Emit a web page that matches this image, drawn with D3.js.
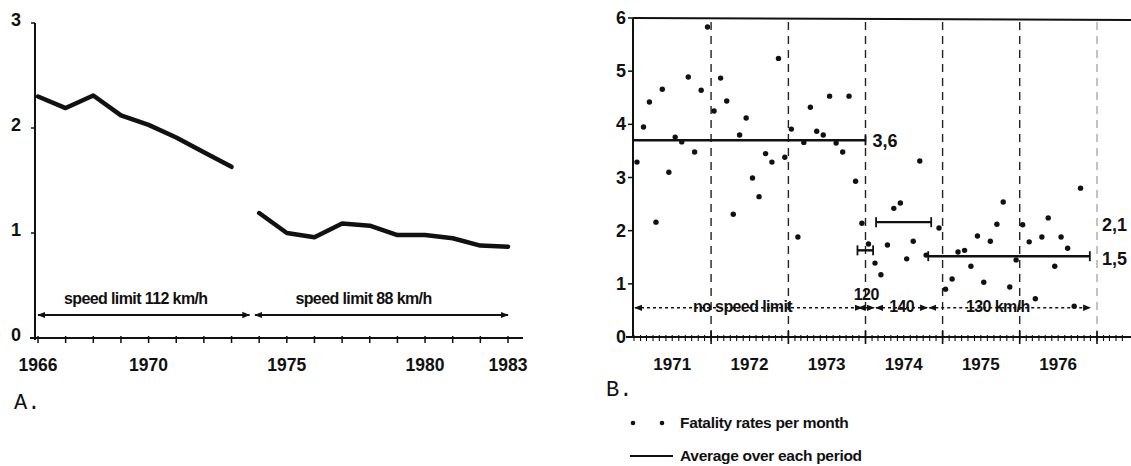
<!DOCTYPE html>
<html>
<head>
<meta charset="utf-8">
<script src="https://cdn.jsdelivr.net/npm/d3@7"></script>
<style>
  body { margin: 0; background: #fff; }
  svg { display: block; }
  text { font-family: "Liberation Sans", Arial, sans-serif; fill: #111; }
</style>
</head>
<body>
<div id="chart"></div>
<script>
// ---- panel A: yearly fatality rate ----
var yearsA1 = [1966, 1967, 1968, 1969, 1970, 1971, 1972, 1973];
var ratesA1 = [2.30, 2.19, 2.31, 2.12, 2.03, 1.91, 1.77, 1.63];
var yearsA2 = [1974, 1975, 1976, 1977, 1978, 1979, 1980, 1981, 1982, 1983];
var ratesA2 = [1.19, 1.00, 0.96, 1.09, 1.07, 0.98, 0.98, 0.95, 0.88, 0.87];
var yTicksA = [0, 1, 2, 3];
var xLabelsA = [1966, 1970, 1975, 1980, 1983];
var limitsA = [
  {label: "speed limit 112 km/h", from: 1966, to: 1973.65},
  {label: "speed limit 88 km/h", from: 1973.85, to: 1983}
];

// ---- panel B: monthly fatality rate ----
var monthsB = [
  "1971-01","1971-02","1971-03","1971-04","1971-05","1971-06","1971-07","1971-08","1971-09","1971-10","1971-11","1971-12",
  "1972-01","1972-02","1972-03","1972-04","1972-05","1972-06","1972-07","1972-08","1972-09","1972-10","1972-11","1972-12",
  "1973-01","1973-02","1973-03","1973-04","1973-05","1973-06","1973-07","1973-08","1973-09","1973-10","1973-11","1973-12",
  "1974-01","1974-02","1974-03","1974-04","1974-05","1974-06","1974-07","1974-08","1974-09","1974-10","1974-12",
  "1975-01","1975-02","1975-03","1975-04","1975-05","1975-06","1975-07","1975-08","1975-09","1975-10","1975-11","1975-12",
  "1976-01","1976-02","1976-03","1976-04","1976-05","1976-06","1976-07","1976-08","1976-09","1976-10"
];
var ratesB = [
  3.29, 3.95, 4.42, 2.16, 4.66, 3.10, 3.76, 3.67, 4.89, 3.48, 4.64, 5.83,
  4.25, 4.87, 4.44, 2.31, 3.80, 4.12, 2.99, 2.64, 3.45, 3.29, 5.24, 3.38,
  3.91, 1.88, 3.66, 4.32, 3.87, 3.80, 4.53, 3.65, 3.48, 4.53, 2.93, 2.14,
  1.75, 1.39, 1.17, 1.73, 2.42, 2.52, 1.47, 1.80, 3.31, 1.54, 2.05,
  0.90, 1.09, 1.60, 1.63, 1.33, 1.90, 1.03, 1.80, 2.12, 2.54, 0.94, 1.45,
  2.11, 1.79, 0.72, 1.88, 2.24, 1.33, 1.88, 1.67, 0.58, 2.80
];
var yearsB = [1971, 1972, 1973, 1974, 1975, 1976];
var yTicksB = [0, 1, 2, 3, 4, 5, 6];
var averagesB = [
  {from: "1971-01-01", to: "1974-01-01", value: 3.70, label: "3,6", labelAt: "end"},
  {from: "1973-11-24", to: "1974-02-06", value: 1.63, label: "", labelAt: "none"},
  {from: "1974-02-20", to: "1974-11-08", value: 2.16, label: "2,1", labelAt: "right"},
  {from: "1974-10-25", to: "1976-11-28", value: 1.52, label: "1,5", labelAt: "right"}
];
var periodsB = [
  {label: "no speed limit", from: "1971-01-01", to: "1973-12-20"},
  {label: "120", from: "1973-11-24", to: "1974-02-15"},
  {label: "140", from: "1974-02-15", to: "1974-10-25"},
  {label: "130 km/h", from: "1974-10-25", to: "1976-12-05"}
];

var W = 1131, H = 466;
var svg = d3.select("#chart").append("svg").attr("width", W).attr("height", H);

var defs = svg.append("defs");
defs.append("marker").attr("id", "arr").attr("viewBox", "0 0 10 10")
    .attr("refX", 9).attr("refY", 5).attr("markerWidth", 8).attr("markerHeight", 8)
    .attr("markerUnits", "userSpaceOnUse").attr("orient", "auto-start-reverse")
    .append("path").attr("d", "M0,1L10,5L0,9Z").attr("fill", "#111");

// =============== panel A ===============
var gA = svg.append("g");
var xA = d3.scaleLinear().domain([1966, 1983]).range([38, 508]);
var yA = d3.scaleLinear().domain([0, 3]).range([338, 23]);

// axes lines
gA.append("line").attr("x1", 35).attr("x2", 35).attr("y1", yA(3)).attr("y2", yA(0) + 2)
    .attr("stroke", "#111").attr("stroke-width", 2);
gA.append("line").attr("x1", 30).attr("x2", 523).attr("y1", yA(0)).attr("y2", yA(0))
    .attr("stroke", "#111").attr("stroke-width", 2.2);

gA.selectAll(".ytA").data(yTicksA).enter().append("line")
    .attr("x1", 31).attr("x2", 35).attr("y1", function(d){ return yA(d); }).attr("y2", function(d){ return yA(d); })
    .attr("stroke", "#111").attr("stroke-width", 1.5);
gA.selectAll(".ylA").data(yTicksA).enter().append("text")
    .attr("x", 21).attr("y", function(d){ return yA(d) + 3; })
    .attr("text-anchor", "end").attr("font-size", 18).attr("font-weight", "bold")
    .text(function(d){ return d; });

gA.selectAll(".xtA").data(d3.range(1966, 1984)).enter().append("line")
    .attr("x1", function(d){ return xA(d); }).attr("x2", function(d){ return xA(d); })
    .attr("y1", yA(0) - 2).attr("y2", yA(0) + 5)
    .attr("stroke", "#111").attr("stroke-width", 1.5);
gA.selectAll(".xlA").data(xLabelsA).enter().append("text")
    .attr("x", function(d){ return xA(d); }).attr("y", 371)
    .attr("text-anchor", "middle").attr("font-size", 17.5).attr("font-weight", "bold")
    .text(function(d){ return d; });

var lineA = d3.line().x(function(d){ return xA(d[0]); }).y(function(d){ return yA(d[1]); });
[d3.zip(yearsA1, ratesA1), d3.zip(yearsA2, ratesA2)].forEach(function(seg){
  gA.append("path").attr("d", lineA(seg)).attr("fill", "none")
      .attr("stroke", "#111").attr("stroke-width", 4.5)
      .attr("stroke-linejoin", "round").attr("stroke-linecap", "round");
});

limitsA.forEach(function(p){
  gA.append("line").attr("x1", xA(p.from)).attr("x2", xA(p.to)).attr("y1", 315).attr("y2", 315)
      .attr("stroke", "#111").attr("stroke-width", 2)
      .attr("marker-start", "url(#arr)").attr("marker-end", "url(#arr)");
  gA.append("text").attr("x", (xA(p.from) + xA(p.to)) / 2 + (p.from === 1966 ? -8 : -18)).attr("y", 304)
      .attr("text-anchor", "middle").attr("font-size", 16).attr("font-weight", "bold")
      .attr("letter-spacing", -0.6)
      .text(p.label);
});

gA.append("text").attr("x", 14).attr("y", 409)
    .style("font-family", "'Liberation Mono', 'Courier New', monospace")
    .attr("font-size", 22).text("A.");

// =============== panel B ===============
var gB = svg.append("g");
var parse = d3.timeParse("%Y-%m-%d");
var xB = d3.scaleTime().domain([new Date(1971, 0, 1), new Date(1977, 0, 1)]).range([634, 1097]);
var yB = d3.scaleLinear().domain([0, 6]).range([337, 18]);

// year boundary dashed lines
var bounds = d3.range(1972, 1978).map(function(y){ return new Date(y, 0, 1); });
gB.selectAll(".vb").data(bounds).enter().append("line")
    .attr("x1", function(d){ return xB(d); }).attr("x2", function(d){ return xB(d); })
    .attr("y1", yB(6) + 4).attr("y2", yB(0))
    .attr("stroke", function(d, i){ return i === bounds.length - 1 ? "#aaa" : "#222"; })
    .attr("stroke-width", 1.4).attr("stroke-dasharray", "8,6");

// frame: top line, left axis, bottom axis
gB.append("line").attr("x1", 633).attr("x2", W).attr("y1", yB(6)).attr("y2", yB(6) + 2)
    .attr("stroke", "#111").attr("stroke-width", 2);
gB.append("line").attr("x1", 633).attr("x2", 633).attr("y1", yB(6)).attr("y2", yB(0))
    .attr("stroke", "#111").attr("stroke-width", 2);
gB.append("line").attr("x1", 626).attr("x2", W).attr("y1", yB(0)).attr("y2", yB(0))
    .attr("stroke", "#111").attr("stroke-width", 2.2);

gB.selectAll(".ytB").data(yTicksB).enter().append("line")
    .attr("x1", 628).attr("x2", 633).attr("y1", function(d){ return yB(d); }).attr("y2", function(d){ return yB(d); })
    .attr("stroke", "#111").attr("stroke-width", 1.5);
gB.selectAll(".ylB").data(yTicksB).enter().append("text")
    .attr("x", 626).attr("y", function(d){ return yB(d) + 6; })
    .attr("text-anchor", "end").attr("font-size", 18).attr("font-weight", "bold")
    .text(function(d){ return d; });

// monthly minor ticks + yearly major ticks
var monthTicks = d3.timeMonth.range(new Date(1971, 0, 1), new Date(1978, 0, 1))
    .filter(function(d){ return xB(d) < W - 4; });
gB.selectAll(".mt").data(monthTicks).enter().append("line")
    .attr("x1", function(d){ return xB(d); }).attr("x2", function(d){ return xB(d); })
    .attr("y1", yB(0) - 2).attr("y2", yB(0) + 4)
    .attr("stroke", "#111").attr("stroke-width", 1.1);
gB.selectAll(".yt").data(bounds).enter().append("line")
    .attr("x1", function(d){ return xB(d); }).attr("x2", function(d){ return xB(d); })
    .attr("y1", yB(0) - 6).attr("y2", yB(0) + 7)
    .attr("stroke", "#111").attr("stroke-width", 1.6);
gB.selectAll(".xlB").data(yearsB).enter().append("text")
    .attr("x", function(d){ return xB(new Date(d, 6, 1)); }).attr("y", 370)
    .attr("text-anchor", "middle").attr("font-size", 17).attr("font-weight", "bold")
    .text(function(d){ return d; });

// monthly dots
var dots = d3.zip(monthsB, ratesB);
gB.selectAll(".dot").data(dots).enter().append("circle")
    .attr("cx", function(d){ return xB(parse(d[0] + "-15")); })
    .attr("cy", function(d){ return yB(d[1]); })
    .attr("r", 2.7).attr("fill", "#111");

// period averages
averagesB.forEach(function(a){
  var x1 = xB(parse(a.from)), x2 = xB(parse(a.to)), y = yB(a.value);
  gB.append("line").attr("x1", x1).attr("x2", x2).attr("y1", y).attr("y2", y)
      .attr("stroke", "#111").attr("stroke-width", 2.4);
  [x1, x2].forEach(function(x, i){
    if (a.labelAt === "end" && i === 0) return;
    gB.append("line").attr("x1", x).attr("x2", x).attr("y1", y - 5).attr("y2", y + 5)
        .attr("stroke", "#111").attr("stroke-width", 1.8);
  });
  if (a.labelAt === "end") {
    gB.append("text").attr("x", x2 + 7).attr("y", y + 7)
        .attr("font-size", 18).attr("font-weight", "bold").text(a.label);
  } else if (a.labelAt === "right") {
    gB.append("text").attr("x", 1102).attr("y", y + 9)
        .attr("font-size", 18).attr("font-weight", "bold").text(a.label);
  }
});

// speed limit periods (dotted arrows)
var yP = yB(0.55);
periodsB.forEach(function(p, i){
  var x1 = xB(parse(p.from)), x2 = xB(parse(p.to));
  gB.append("line").attr("x1", x1 + 1).attr("x2", x2 - 1).attr("y1", yP).attr("y2", yP)
      .attr("stroke", "#111").attr("stroke-width", 1.6).attr("stroke-dasharray", "3,3")
      .attr("marker-start", "url(#arr)").attr("marker-end", "url(#arr)");
  var t = gB.append("text").attr("text-anchor", "middle")
      .attr("font-size", 16).attr("font-weight", "bold").attr("letter-spacing", -0.6)
      .text(p.label);
  if (p.label === "120") t.attr("x", (x1 + x2) / 2).attr("y", yP - 8);
  else if (i === 3) t.attr("x", (x1 + x2) / 2 - 12).attr("y", yP + 4);
  else t.attr("x", (x1 + x2) / 2 + (i === 0 ? -6 : 0)).attr("y", yP + 4);
});

gB.append("text").attr("x", 606).attr("y", 396)
    .style("font-family", "'Liberation Mono', monospace")
    .attr("font-size", 22).text("B.");

// legend
var lg = gB.append("g");
lg.selectAll("circle").data([633, 662]).enter().append("circle")
    .attr("cx", function(d){ return d; }).attr("cy", 423).attr("r", 2.3).attr("fill", "#111");
lg.append("text").attr("x", 680).attr("y", 428).attr("font-size", 15.5).attr("font-weight", "bold")
    .attr("letter-spacing", -0.3).text("Fatality rates per month");
lg.append("line").attr("x1", 630).attr("x2", 673).attr("y1", 456).attr("y2", 456)
    .attr("stroke", "#111").attr("stroke-width", 1.8);
lg.append("text").attr("x", 680).attr("y", 461).attr("font-size", 15.5).attr("font-weight", "bold")
    .attr("letter-spacing", -0.3).text("Average over each period");
</script>
</body>
</html>
